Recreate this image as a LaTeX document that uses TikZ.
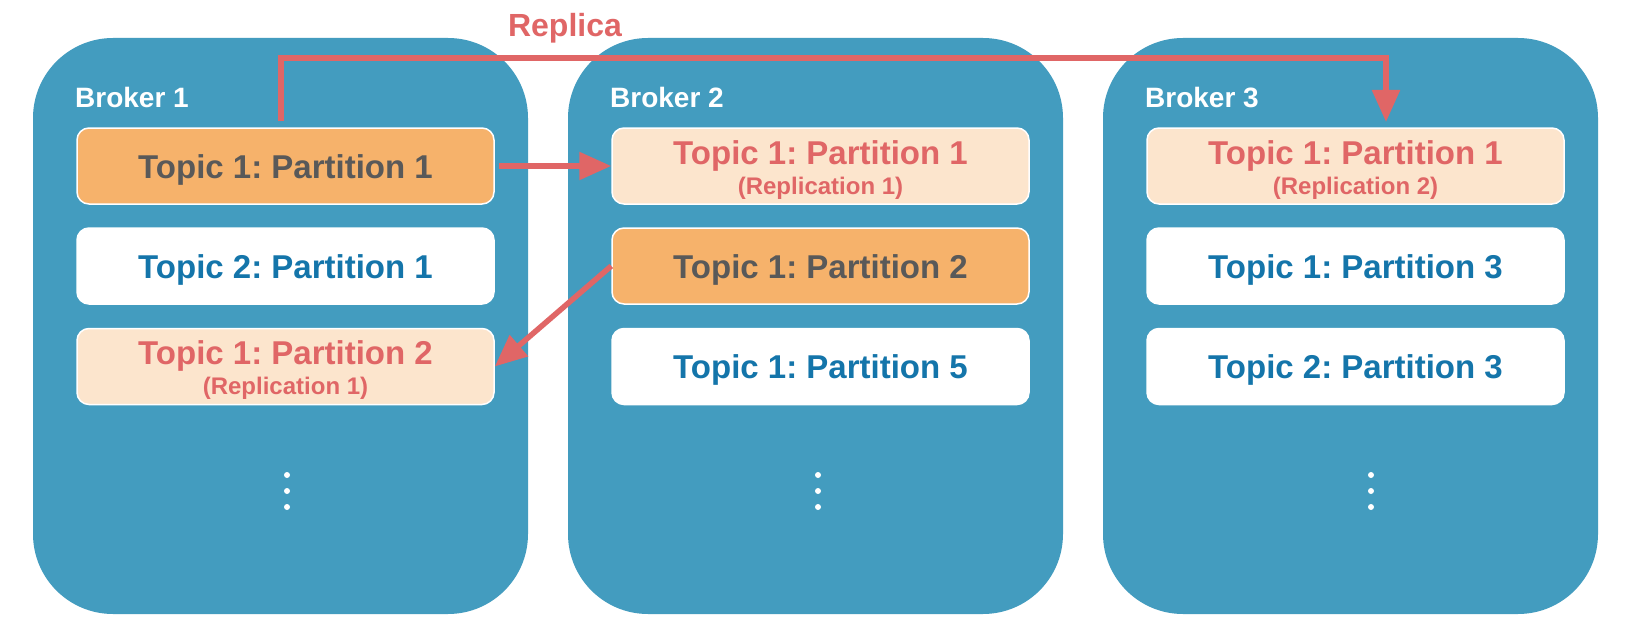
\documentclass[tikz,border=0pt]{standalone}
\usepackage{fontspec}
\setmainfont{Liberation Sans}
\usetikzlibrary{arrows.meta,calc}
\definecolor{brokerblue}{HTML}{439CBF}
\definecolor{leadorange}{HTML}{F6B26B}
\definecolor{peach}{HTML}{FCE5CD}
\definecolor{redline}{HTML}{E06666}
\definecolor{greytext}{HTML}{595959}
\definecolor{bluetext}{HTML}{1475AA}
\frenchspacing
\newcommand\TtlFont{\fontsize{33}{38}\selectfont\bfseries}
\newcommand\SubFont{\fontsize{24}{28}\selectfont\bfseries}
\newcommand\BrkFont{\fontsize{28}{32}\selectfont\bfseries}
\newcommand\RepFont{\fontsize{32}{36}\selectfont\bfseries}
\begin{document}
\begin{tikzpicture}[x=1pt,y=-1pt,
  broker/.style={fill=brokerblue, draw=none, rounded corners=80pt,
    minimum width=495pt, minimum height=576pt, inner sep=0pt},
  partbox/.style={draw=white, line width=1.5pt, rounded corners=12pt,
    minimum width=417pt, minimum height=76pt, inner sep=0pt},
  leader/.style={partbox, fill=leadorange},
  replbox/.style={partbox, fill=peach},
  plainbox/.style={partbox, fill=white},
  ttl/.style={anchor=base, inner sep=0pt, font=\TtlFont},
  sub/.style={anchor=base, inner sep=0pt, font=\SubFont, text=redline},
  brklabel/.style={anchor=base west, inner sep=0pt, font=\BrkFont, text=white},
  dotnode/.style={circle, fill=white, draw=none, minimum size=6pt, inner sep=0pt},
  redarrow/.style={draw=redline, line width=5.5pt,
    -{Triangle[length=32pt,width=27pt]}},
]
\useasboundingbox (0,0) rectangle (1626,634);
\fill[white] (0,0) rectangle (1626,634);

% brokers
\node[broker] (b1) at (280.5,326) {};
\node[broker] (b2) at (815.5,326) {};
\node[broker] (b3) at (1350.5,326) {};

\node[brklabel] (l1) at (75,107) {Broker 1};
\node[brklabel] (l2) at (610,107) {Broker 2};
\node[brklabel] (l3) at (1145,107) {Broker 3};

% broker 1 partitions
\node[leader]   (r11) at (285.5,166) {};
\node[plainbox] (r12) at (285.5,266) {};
\node[replbox]  (r13) at (285.5,366.5) {};
% broker 2 partitions
\node[replbox]  (r21) at (820.5,166) {};
\node[leader]   (r22) at (820.5,266) {};
\node[plainbox] (r23) at (820.5,366.5) {};
% broker 3 partitions
\node[replbox]  (r31) at (1355.5,166) {};
\node[plainbox] (r32) at (1355.5,266) {};
\node[plainbox] (r33) at (1355.5,366.5) {};

% texts
\node[ttl, text=greytext] (t11) at (285.5,178) {Topic 1: Partition 1};
\node[ttl, text=bluetext] (t12) at (285.5,278) {Topic 2: Partition 1};
\node[ttl, text=redline]  (t13) at (285.5,364.5) {Topic 1: Partition 2};
\node[sub] (s13) at (285.5,394.5) {(Replication 1)};

\node[ttl, text=redline]  (t21) at (820.5,164) {Topic 1: Partition 1};
\node[sub] (s21) at (820.5,194) {(Replication 1)};
\node[ttl, text=greytext] (t22) at (820.5,278) {Topic 1: Partition 2};
\node[ttl, text=bluetext] (t23) at (820.5,378) {Topic 1: Partition 5};

\node[ttl, text=redline]  (t31) at (1355.5,164) {Topic 1: Partition 1};
\node[sub] (s31) at (1355.5,194) {(Replication 2)};
\node[ttl, text=bluetext] (t32) at (1355.5,278) {Topic 1: Partition 3};
\node[ttl, text=bluetext] (t33) at (1355.5,378) {Topic 2: Partition 3};

% dots
\foreach \x/\n in {287/1,818/2,1371/3}{
  \node[dotnode] (d\n a) at (\x,475) {};
  \node[dotnode] (d\n b) at (\x,491) {};
  \node[dotnode] (d\n c) at (\x,507) {};
}

% replica connector
\node[anchor=base, inner sep=0pt, font=\RepFont, text=redline] (rep) at (565,37) {Replica};
\coordinate (rs) at (281,121);
\coordinate (rc) at (1386,58);
\coordinate (re) at (1386,122);
\draw[redarrow] (rs) |- (rc) -- (re);

% replication arrows
\draw[redarrow] ($(r11.east)+(4,0)$) -- (r21.west);
\draw[redarrow] (r22.west) -- (r13.east);
\end{tikzpicture}
\end{document}
